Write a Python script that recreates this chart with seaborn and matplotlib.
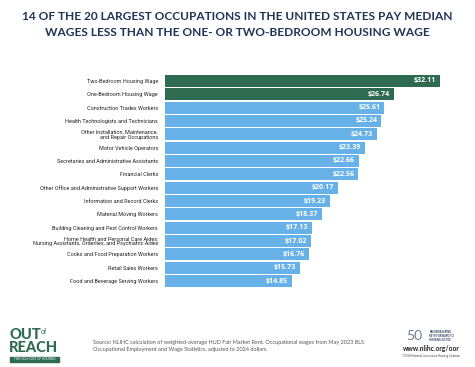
import matplotlib
matplotlib.use("Agg")
import matplotlib.pyplot as plt
import seaborn as sns
import pandas as pd
from matplotlib.patches import Rectangle

categories = [
    "Two-Bedroom Housing Wage",
    "One-Bedroom Housing Wage",
    "Construction Trades Workers",
    "Health Technologists and Technicians",
    "Other Installation, Maintenance,\nand Repair Occupations",
    "Motor Vehicle Operators",
    "Secretaries and Administrative Assistants",
    "Financial Clerks",
    "Other Office and Administrative Support Workers",
    "Information and Record Clerks",
    "Material Moving Workers",
    "Building Cleaning and Pest Control Workers",
    "Home Health and Personal Care Aides:\nNursing Assistants, Orderlies, and Psychiatric Aides",
    "Cooks and Food Preparation Workers",
    "Retail Sales Workers",
    "Food and Beverage Serving Workers",
]
wages = [32.11, 26.74, 25.61, 25.24, 24.73, 23.39, 22.66, 22.56, 20.17, 19.23,
         18.37, 17.13, 17.02, 16.76, 15.73, 14.85]
groups = ["Housing Wage", "Housing Wage"] + ["Occupation"] * 14

GREEN = "#2f6b50"
BLUE = "#66b1e8"
NAVY = "#1d3557"

df = pd.DataFrame({"category": categories, "wage": wages, "group": groups})

W, H = 475, 367
fig = plt.figure(figsize=(W / 100, H / 100), dpi=100)
fig.patch.set_facecolor("white")

left, right = 165, 450
top, bottom = 74.3, 287.7
ax = fig.add_axes([left / W, 1 - bottom / H, (right - left) / W, (bottom - top) / H])

sns.barplot(data=df, x="wage", y="category", hue="group",
            palette={"Housing Wage": GREEN, "Occupation": BLUE},
            dodge=False, legend=False, width=0.9, ax=ax, saturation=1)

ax.set_xlim(0, (right - left) / 8.565)
ax.set_ylim(len(categories) - 0.5, -0.5)
ax.set_xlabel("")
ax.set_ylabel("")
ax.set_xticks([])
for s in ax.spines.values():
    s.set_visible(False)
ax.set_facecolor("none")
ax.tick_params(axis="y", length=0, pad=5)
ax.set_yticks(range(len(categories)))
ax.set_yticklabels(categories, fontsize=4.0, color="#222222",
                   family="Roboto", linespacing=0.95)

for i, v in enumerate(wages):
    ax.text(v - 0.45, i, f"${v:.2f}", ha="right", va="center",
            fontsize=5.1, color="white", fontweight="bold", family="Open Sans")

# Title
fig.text(0.5, 1 - 17 / H, "14 OF THE 20 LARGEST OCCUPATIONS IN THE UNITED STATES PAY MEDIAN",
         ha="center", va="center", fontsize=8.6, fontweight="bold", color=NAVY, family="Lato")
fig.text(0.5, 1 - 32 / H, "WAGES LESS THAN THE ONE- OR TWO-BEDROOM HOUSING WAGE",
         ha="center", va="center", fontsize=8.6, fontweight="bold", color=NAVY, family="Lato")

# Source
fig.text(93 / W, 1 - 346 / H,
         "Source: NLIHC calculation of weighted-average HUD Fair Market Rent. Occupational wages from May 2023 BLS\n"
         "Occupational Employment and Wage Statistics, adjusted to 2024 dollars.",
         ha="left", va="center", fontsize=4.0, color="#555555", family="Lato", linespacing=1.3)

# Out of Reach logo
fig.text(9 / W, 1 - 335 / H, "OUT", ha="left", va="center", fontsize=10.5,
         fontweight="black", color=GREEN, family="Lato")
fig.text(41 / W, 1 - 332 / H, "of", ha="left", va="center", fontsize=5.0,
         color=GREEN, family="Lato")
fig.text(9 / W, 1 - 348.5 / H, "REACH", ha="left", va="center", fontsize=10.5,
         fontweight="black", color=GREEN, family="Lato")
fig.patches.append(Rectangle((10 / W, 1 - 362 / H), 49 / W, 5 / H,
                             transform=fig.transFigure, color=GREEN))
fig.text(34.5 / W, 1 - 359.5 / H, "THE HIGH COST OF HOUSING", ha="center", va="center",
         fontsize=2.2, color="white", family="Lato")

# NLIHC logo
fig.text(406 / W, 1 - 336 / H, "50", ha="left", va="center", fontsize=10,
         color="#6b7f95", family="Lato")
fig.text(429 / W, 1 - 336 / H, "AN UNWAVERING\nPATH FORWARD TO\nHOUSING JUSTICE",
         ha="left", va="center", fontsize=1.8, color=NAVY, family="Lato", fontweight="bold",
         linespacing=1.1)
fig.text(431 / W, 1 - 349 / H, "www.nlihc.org/oor", ha="center", va="center",
         fontsize=4.9, fontweight="bold", color="#222222", family="Lato")
fig.text(431 / W, 1 - 356 / H, "©2024 National Low Income Housing Coalition", ha="center",
         va="center", fontsize=2.0, color="#444444", family="Lato")

fig.savefig("out.png", dpi=100, facecolor="white")
